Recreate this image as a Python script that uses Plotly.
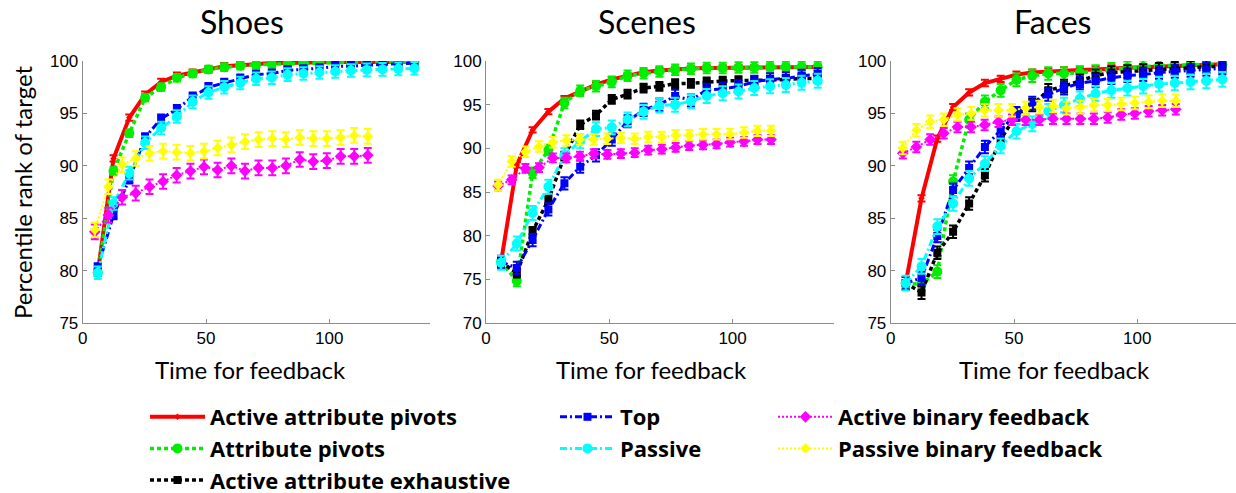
import plotly.graph_objects as go

W, H = 1236, 493

# ---------------- data ----------------
attr_x = [6.1, 12.5, 18.9, 25.3, 31.8, 38.2, 44.6, 51.0, 57.4, 63.9, 70.3,
          76.7, 83.1, 89.5, 96.0, 102.4, 108.8, 115.2, 121.6, 128.0, 134.5]
binary_x = [4.9, 10.4, 16.0, 21.5, 27.1, 32.6, 38.1, 43.7, 49.2, 54.7, 60.3,
            65.8, 71.3, 76.9, 82.4, 88.0, 93.5, 99.0, 104.6, 110.1, 115.6]

series_names = ["Active attribute pivots", "Attribute pivots", "Active attribute exhaustive",
                "Top", "Passive", "Active binary feedback", "Passive binary feedback"]

# Shoes
shoes_red = [79.8, 90.7, 94.6, 96.8, 98.0, 98.6, 98.9, 99.2, 99.5, 99.6, 99.7,
             99.8, 99.8, 99.85, 99.85, 99.9, 99.9, 99.9, 99.9, 99.9, 99.9]
shoes_green = [79.8, 89.5, 93.1, 96.5, 97.5, 98.4, 98.8, 99.2, 99.4, 99.55, 99.65,
               99.7, 99.75, 99.8, 99.8, 99.85, 99.85, 99.9, 99.9, 99.9, 99.9]
shoes_blue = [80.3, 85.3, 88.7, 92.7, 94.5, 95.4, 96.6, 97.5, 97.9, 98.3, 98.7,
              98.8, 99.1, 99.2, 99.3, 99.5, 99.5, 99.6, 99.65, 99.7, 99.8]
shoes_cyan = [79.8, 86.4, 89.3, 92.2, 93.6, 94.7, 96.1, 97.0, 97.5, 97.9, 98.3,
              98.4, 98.7, 98.8, 98.9, 99.0, 99.1, 99.15, 99.2, 99.25, 99.3]
shoes_magenta = [83.7, 85.3, 87.0, 87.4, 88.0, 88.5, 89.1, 89.5, 89.9, 89.6, 90.0,
                 89.5, 89.8, 89.8, 90.0, 90.6, 90.4, 90.5, 90.9, 90.9, 91.0]
shoes_yellow = [83.9, 88.0, 90.1, 90.7, 91.2, 91.4, 91.3, 91.2, 91.4, 91.7, 92.0,
                92.3, 92.5, 92.6, 92.5, 92.7, 92.6, 92.6, 92.7, 92.9, 92.8]

# Scenes
scenes_red = [77.0, 88.1, 92.1, 94.2, 95.7, 96.5, 97.3, 97.9, 98.3, 98.7, 98.9,
              99.05, 99.15, 99.2, 99.2, 99.25, 99.25, 99.3, 99.3, 99.3, 99.3]
scenes_green = [77.0, 74.8, 87.2, 89.8, 95.2, 96.6, 97.1, 97.6, 98.3, 98.6, 98.8,
                99.0, 99.1, 99.2, 99.2, 99.25, 99.25, 99.3, 99.3, 99.3, 99.3]
scenes_black = [77.0, 75.7, 80.5, 84.1, 89.1, 92.7, 93.8, 95.6, 96.2, 96.9, 97.1,
                97.4, 97.45, 97.6, 97.7, 97.75, 97.75, 97.8, 97.9, 98.0, 98.0]
scenes_blue = [77.0, 76.3, 79.5, 83.0, 86.0, 87.9, 89.2, 91.0, 93.1, 94.4, 95.0,
               96.0, 95.5, 96.7, 96.8, 97.1, 97.6, 97.9, 98.0, 98.3, 98.5]
scenes_cyan = [76.9, 79.1, 82.6, 85.6, 89.2, 90.8, 92.2, 92.4, 93.3, 94.2, 94.9,
               95.0, 95.4, 96.0, 96.3, 96.5, 96.9, 97.1, 97.25, 97.5, 97.75]
scenes_magenta = [85.7, 86.4, 87.7, 87.8, 88.9, 88.9, 89.1, 89.4, 89.3, 89.4, 89.5,
                  89.8, 89.9, 90.1, 90.3, 90.4, 90.5, 90.7, 90.8, 91.0, 91.0]
scenes_yellow = [85.8, 88.5, 89.6, 90.2, 90.7, 90.9, 91.0, 91.0, 91.1, 91.2, 91.1,
                 91.3, 91.3, 91.5, 91.5, 91.6, 91.6, 91.65, 91.8, 92.0, 92.0]

# Faces
faces_red = [78.8, 86.9, 92.6, 95.6, 97.0, 97.9, 98.3, 98.7, 98.9, 99.0, 99.1,
             99.15, 99.2, 99.3, 99.35, 99.4, 99.45, 99.5, 99.6, 99.65, 99.7]
faces_green = [78.8, 78.7, 79.9, 88.5, 94.4, 96.1, 97.2, 98.2, 98.6, 98.8, 98.8,
               98.9, 99.0, 99.2, 99.35, 99.45, 99.55, 99.6, 99.65, 99.7, 99.7]
faces_black = [78.8, 77.9, 81.7, 83.7, 86.4, 89.1, 92.5, 94.9, 95.8, 97.2, 97.6,
               98.1, 98.6, 98.9, 99.0, 99.1, 99.2, 99.3, 99.4, 99.45, 99.5]
faces_blue = [78.8, 79.3, 83.3, 87.7, 89.8, 91.8, 93.4, 95.0, 96.0, 96.8, 97.4,
              97.9, 98.1, 98.4, 98.6, 98.7, 98.9, 99.0, 99.1, 99.2, 99.3]
faces_cyan = [78.8, 80.4, 84.2, 86.4, 88.8, 90.2, 91.9, 93.3, 94.0, 95.2, 95.8,
              96.4, 96.9, 97.2, 97.4, 97.6, 97.8, 97.9, 98.0, 98.1, 98.25]
faces_magenta = [91.2, 91.8, 92.5, 93.1, 93.7, 93.7, 93.9, 94.2, 94.4, 94.4, 94.4,
                 94.5, 94.5, 94.5, 94.5, 94.6, 94.9, 95.0, 95.2, 95.3, 95.4]
faces_yellow = [91.7, 93.4, 94.2, 94.4, 94.9, 95.0, 95.3, 95.3, 95.3, 95.5, 95.6,
                95.7, 95.5, 95.6, 95.8, 95.8, 95.9, 96.0, 96.1, 96.2, 96.2]

# error half-widths per series (order of series_names)
shoes_err = [0.3, 0.35, 0, 0.4, 0.6, 0.7, 0.7]
scenes_err = [0.3, 0.6, 0.5, 0.7, 0.8, 0.5, 0.6]
faces_err = [0.3, 0.6, 0.6, 0.6, 0.7, 0.5, 0.6]

titles = ["Shoes", "Scenes", "Faces"]
y_ranges = [[75, 100], [70, 100], [75, 100]]

datasets = [
    [shoes_red, shoes_green, None, shoes_blue, shoes_cyan, shoes_magenta, shoes_yellow],
    [scenes_red, scenes_green, scenes_black, scenes_blue, scenes_cyan, scenes_magenta, scenes_yellow],
    [faces_red, faces_green, faces_black, faces_blue, faces_cyan, faces_magenta, faces_yellow],
]
errors = [shoes_err, scenes_err, faces_err]

# ---------------- styles ----------------
colors = ["#ff0000", "#00ee00", "#000000", "#0000ff", "#00ffff", "#ff00ff", "#ffff00"]
dashes = ["solid", "4px,3px", "4px,3px", "7px,3px,2px,3px", "7px,3px,2px,3px", "2px,2px", "2px,2px"]
widths = [4, 3.5, 3.5, 3, 3, 2, 2]
symbols = ["diamond", "circle", "square", "square", "circle", "diamond", "diamond"]
msizes = [5, 10, 8, 8, 10, 9, 8]
legend_ids = ["legend", "legend", "legend", "legend2", "legend2", "legend3", "legend3"]

fig = go.Figure()


def px(p):
    return p / W


def py(p):
    return 1 - p / H


domains = [[px(82.7), px(430.4)], [px(486.0), px(833.7)], [px(890.7), 1.0]]
x_ranges = [[0, 141], [0, 141], [0, (1236 - 890.7) / (347.7 / 141)]]
ydom = [py(323), py(61)]

shown = set()
for p in range(3):
    xa = "x" if p == 0 else f"x{p + 1}"
    ya = "y" if p == 0 else f"y{p + 1}"
    for s in range(7):
        vals = datasets[p][s]
        if vals is None:
            continue
        xs = binary_x if s >= 5 else attr_x
        show = s not in shown
        shown.add(s)
        fig.add_trace(go.Scatter(
            x=xs, y=vals, mode="lines+markers", name=series_names[s],
            xaxis=xa, yaxis=ya, legend=legend_ids[s], showlegend=show,
            line=dict(color=colors[s], width=widths[s], dash=dashes[s]),
            marker=dict(color=colors[s], symbol=symbols[s], size=msizes[s], line=dict(width=0)),
            error_y=dict(type="constant", value=errors[p][s], color=colors[s], thickness=2, width=4),
        ))

axis_style = dict(showline=True, linecolor="#8c8c8c", linewidth=1, ticks="inside", ticklen=4,
                  tickcolor="#8c8c8c", showgrid=False, zeroline=False,
                  tickfont=dict(family="Liberation Sans, Arial", size=17, color="#000000"))

layout = dict(
    width=W, height=H, margin=dict(l=0, r=0, t=0, b=0, autoexpand=False),
    paper_bgcolor="white", plot_bgcolor="white", showlegend=True,
)
for p in range(3):
    sfx = "" if p == 0 else str(p + 1)
    layout["xaxis" + sfx] = dict(domain=domains[p], range=x_ranges[p], anchor="y" + sfx,
                                 tickvals=[0, 50, 100], automargin=False, **axis_style)
    layout["yaxis" + sfx] = dict(domain=ydom, range=y_ranges[p], anchor="x" + sfx,
                                 dtick=5, tick0=0, automargin=False, **axis_style)

legend_font = dict(family="Open Sans", size=22, color="#000000", weight="bold")
legend_common = dict(xanchor="left", yanchor="top", font=legend_font, itemwidth=55,
                     bgcolor="rgba(0,0,0,0)", tracegroupgap=0)
layout["legend"] = dict(x=px(145), y=py(396), **legend_common)
layout["legend2"] = dict(x=px(555), y=py(396), **legend_common)
layout["legend3"] = dict(x=px(773), y=py(396), **legend_common)
fig.update_layout(**layout)

# subplot titles and axis titles
title_cx = [242, 647, 1052]
xlabel_cx = [250, 652, 1054]
for p in range(3):
    fig.add_annotation(text=titles[p], x=px(title_cx[p]), y=py(21), xref="paper", yref="paper",
                       showarrow=False, xanchor="center", yanchor="middle",
                       font=dict(family="Lato", size=32, color="#000000"))
    fig.add_annotation(text="Time for feedback", x=px(xlabel_cx[p]), y=py(369), xref="paper", yref="paper",
                       showarrow=False, xanchor="center", yanchor="middle",
                       font=dict(family="Lato", size=24, color="#000000"))
fig.add_annotation(text="Percentile rank of target", x=px(22), y=py(192), xref="paper", yref="paper",
                   showarrow=False, xanchor="center", yanchor="middle", textangle=-90,
                   font=dict(family="Lato", size=24, color="#000000"))

fig.write_html("out.html", config={"displayModeBar": False},
               post_script="document.body.style.margin='0';")
